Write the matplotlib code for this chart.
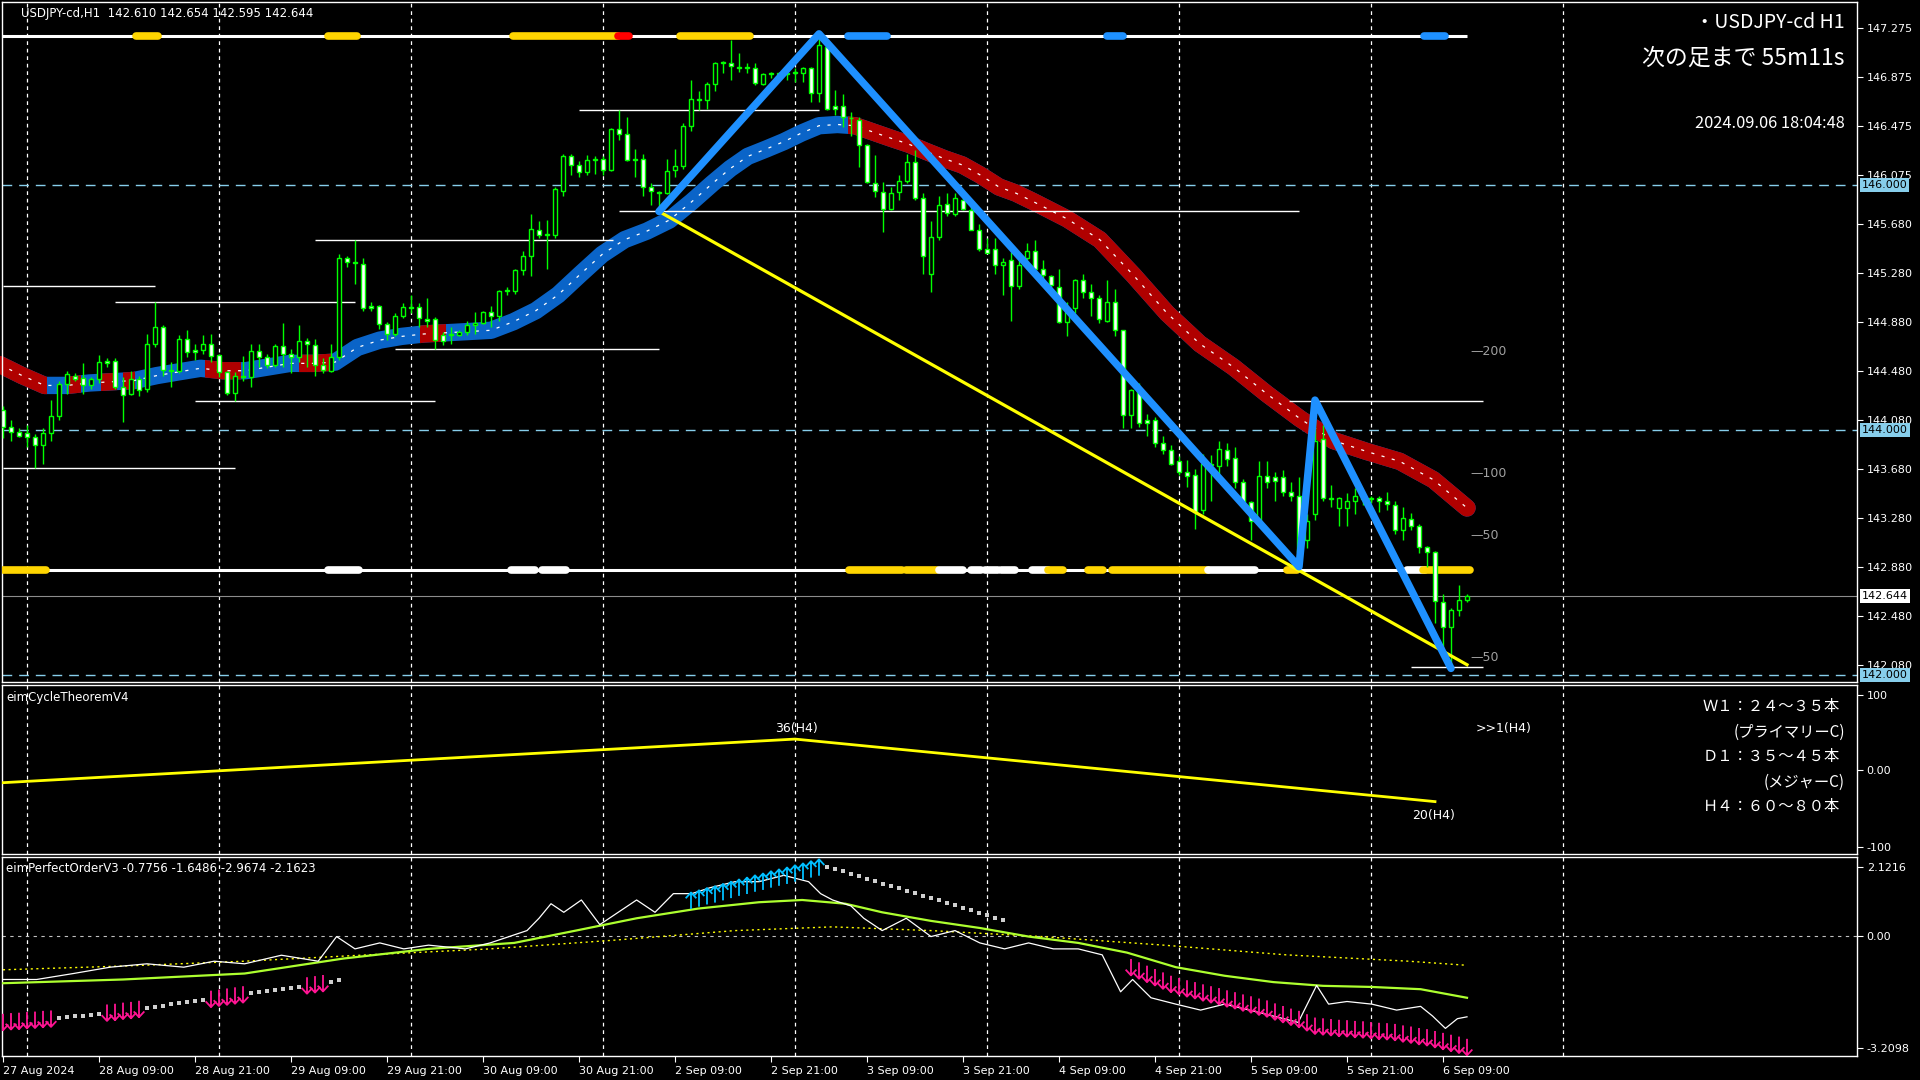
import matplotlib
matplotlib.use("Agg")
import matplotlib.pyplot as plt
import numpy as np
from matplotlib.path import Path
from matplotlib.patches import Rectangle
from matplotlib.transforms import blended_transform_factory

# ---------------- data ----------------
opens = [144.16,144.02,143.98,143.97,143.94,143.87,143.97,144.11,144.37,144.44,
144.42,144.36,144.41,144.56,144.56,144.35,144.29,144.41,144.33,144.70,
144.84,144.49,144.48,144.74,144.65,144.65,144.70,144.61,144.47,144.30,
144.44,144.43,144.64,144.59,144.53,144.68,144.62,144.59,144.72,144.69,
144.53,144.48,144.59,145.40,145.37,145.35,145.01,145.01,144.86,144.78,
144.93,145.00,145.00,144.90,144.90,144.77,144.77,144.77,144.80,144.85,
144.87,144.96,144.93,145.13,145.13,145.30,145.42,145.63,145.59,145.59,
145.95,146.23,146.16,146.10,146.20,146.21,146.12,146.45,146.41,146.21,
146.21,145.98,145.94,145.93,146.12,146.15,146.48,146.70,146.69,146.82,
146.99,146.99,146.96,146.96,146.95,146.82,146.90,146.91,146.90,146.92,
146.91,146.95,146.75,147.12,146.64,146.64,146.54,146.53,146.32,146.01,
145.94,145.80,145.94,146.03,146.18,145.89,145.27,145.57,145.84,145.76,
145.87,145.79,145.63,145.47,145.47,145.34,145.38,145.17,145.40,145.46,
145.31,145.25,145.16,144.88,144.99,145.22,145.12,145.07,144.89,145.04,
144.81,144.12,144.32,144.08,144.08,143.89,143.83,143.74,143.65,143.63,
143.34,143.72,143.70,143.83,143.77,143.57,143.41,143.25,143.62,143.61,
143.61,143.49,143.46,143.10,143.31,143.92,143.44,143.36,143.36,143.42,
143.44,143.43,143.44,143.42,143.38,143.18,143.27,143.21,143.04,143.00,
142.59,142.39,142.53,142.610]
highs = [144.19,144.08,144.01,144.04,143.96,144.01,144.24,144.40,144.48,144.46,
144.54,144.43,144.61,144.58,144.58,144.43,144.48,144.44,144.78,145.04,
144.85,144.55,144.77,144.81,144.70,144.77,144.78,144.62,144.48,144.47,
144.60,144.70,144.70,144.62,144.70,144.87,144.66,144.85,144.75,144.74,
144.58,144.70,145.43,145.42,145.55,145.40,145.04,145.02,144.88,144.95,
145.03,145.10,145.03,145.07,144.92,144.80,144.84,144.81,144.89,144.96,
144.97,145.01,145.14,145.16,145.31,145.46,145.76,145.70,145.71,145.98,
146.25,146.25,146.19,146.24,146.23,146.23,146.46,146.61,146.55,146.29,
146.25,146.01,145.95,146.21,146.29,146.50,146.85,146.76,146.84,147.00,
147.01,147.18,147.07,146.99,146.99,146.91,146.92,146.92,146.93,146.95,
146.96,146.96,147.22,147.14,146.77,146.74,146.59,146.55,146.33,146.24,
146.02,145.98,146.08,146.25,146.28,145.93,145.70,145.91,145.93,145.93,
145.90,145.86,145.68,145.56,145.56,145.40,145.45,145.44,145.52,145.55,
145.38,145.26,145.31,145.04,145.23,145.27,145.19,145.10,145.22,145.15,
144.81,144.33,144.38,144.13,144.10,143.95,143.87,143.78,143.75,143.68,
143.80,143.79,143.91,143.89,143.86,143.60,143.42,143.74,143.74,143.65,
143.67,143.57,143.61,143.31,144.24,144.04,143.55,143.45,143.48,143.52,
143.48,143.46,143.46,143.49,143.42,143.37,143.32,143.23,143.05,143.01,
142.66,142.54,142.73,142.654]
lows = [143.93,143.91,143.94,143.86,143.69,143.72,143.91,144.08,144.29,144.40,
144.29,144.33,144.38,144.51,144.33,144.06,144.28,144.27,144.31,144.67,
144.44,144.35,144.46,144.59,144.57,144.62,144.55,144.43,144.28,144.23,
144.40,144.35,144.51,144.50,144.51,144.51,144.46,144.55,144.51,144.44,
144.46,144.47,144.57,145.33,145.19,144.97,144.97,144.82,144.73,144.76,
144.91,144.95,144.84,144.84,144.66,144.69,144.70,144.76,144.77,144.78,
144.86,144.84,144.89,145.10,145.11,145.26,145.25,145.56,145.31,145.56,
145.91,146.08,146.06,146.08,146.09,146.08,146.11,146.36,146.19,146.06,
145.91,145.83,145.78,145.92,146.06,146.13,146.44,146.61,146.62,146.76,
146.91,146.85,146.92,146.91,146.81,146.81,146.87,146.85,146.85,146.84,
146.84,146.67,146.67,146.61,146.57,146.47,146.40,146.14,146.01,145.90,
145.61,145.79,145.87,146.01,145.87,145.27,145.12,145.55,145.74,145.74,
145.79,145.63,145.46,145.44,145.27,145.10,144.89,145.15,145.38,145.30,
145.23,145.11,144.87,144.76,144.95,145.07,144.93,144.87,144.88,144.76,
144.01,144.01,144.02,143.95,143.86,143.80,143.71,143.63,143.53,143.19,
143.31,143.42,143.64,143.70,143.52,143.36,143.10,143.23,143.52,143.42,
143.46,143.42,142.87,143.03,143.26,143.42,143.37,143.21,143.21,143.31,
143.38,143.40,143.33,143.34,143.15,143.10,143.18,142.99,142.88,142.42,
142.20,142.05,142.48,142.595]
closes = [144.02,143.98,143.95,143.94,143.87,143.97,144.11,144.37,144.45,144.41,
144.36,144.41,144.55,144.54,144.35,144.28,144.41,144.32,144.70,144.84,
144.49,144.48,144.74,144.63,144.63,144.70,144.60,144.47,144.30,144.44,
144.43,144.64,144.59,144.53,144.68,144.62,144.59,144.72,144.70,144.53,
144.49,144.59,145.40,145.37,145.36,144.99,144.99,144.86,144.78,144.93,
145.00,144.99,144.91,144.89,144.73,144.72,144.78,144.80,144.85,144.87,
144.96,144.93,145.13,145.14,145.30,145.42,145.64,145.59,145.59,145.96,
146.23,146.16,146.10,146.20,146.21,146.12,146.45,146.41,146.20,146.20,
145.98,145.95,145.93,146.11,146.15,146.48,146.70,146.69,146.82,146.99,
147.00,146.97,146.95,146.95,146.83,146.90,146.91,146.90,146.91,146.91,
146.95,146.75,147.14,146.62,146.62,146.55,146.54,146.32,146.02,145.95,
145.80,145.93,146.03,146.18,145.89,145.42,145.57,145.83,145.77,145.89,
145.80,145.63,145.47,145.44,145.34,145.37,145.17,145.34,145.46,145.31,
145.26,145.18,144.88,144.96,145.22,145.12,145.07,144.90,145.04,144.81,
144.12,144.32,144.05,144.05,143.89,143.83,143.72,143.65,143.62,143.33,
143.72,143.71,143.84,143.76,143.57,143.41,143.25,143.62,143.57,143.58,
143.49,143.46,143.00,143.25,143.91,143.44,143.43,143.44,143.42,143.46,
143.43,143.44,143.42,143.39,143.18,143.28,143.21,143.04,143.00,142.60,
142.39,142.53,142.61,142.644]

# moving-average band (bar, price)
ma_bars = [-0.4,2.4,5.2,8.0,10.8,13.6,16.4,19.2,21.9,24.7,27.5,30.3,33.1,35.9,38.7,41.5,
           44.3,47.1,49.8,52.6,55.4,58.2,61.0,63.8,66.6,69.4,72.2,74.9,77.7,80.5,83.3,86.1,
           88.7,90.9,93.1,95.4,97.6,99.8,102.0,104.3,106.5,108.7,110.9,113.2,115.4,117.7,
           119.9,122.1,124.5,126.6,128.8,133.0,137.1,141.3,145.5,149.6,153.8,158.0,162.1,
           166.3,170.5,174.6,178.8,183.0]
ma_vals = [144.53,144.44,144.36,144.36,144.38,144.39,144.40,144.44,144.47,144.50,144.48,
           144.48,144.51,144.54,144.54,144.55,144.67,144.73,144.76,144.78,144.79,144.80,
           144.81,144.88,144.97,145.10,145.27,145.43,145.55,145.62,145.71,145.86,146.01,
           146.13,146.23,146.29,146.35,146.42,146.48,146.49,146.48,146.43,146.38,146.33,
           146.27,146.21,146.16,146.08,145.98,145.93,145.86,145.72,145.55,145.26,144.95,
           144.70,144.51,144.29,144.09,143.91,143.82,143.74,143.59,143.36]
ma_red_ranges = [(-1, 5.5), (8.2, 9.8), (12.3, 14.3), (15.0, 16.5), (25.2, 29.8),
                 (37.0, 41.0), (52.1, 55.4), (105.6, 185)]

zz_bars = [82, 102, 162, 164, 181]
zz_vals = [145.78, 147.23, 142.88, 144.24, 142.05]
trend_bars = [82, 183]
trend_vals = [145.78, 142.08]

# horizontal levels (price, from bar, to bar)
hl_price = [145.175, 145.045, 144.66, 144.23, 143.69, 145.55, 145.78, 146.61, 144.235, 142.06]
hl_from = [0, 14, 49, 24, 0, 39, 77, 72, 160.8, 176]
hl_to = [19, 44, 82, 54, 29, 76.2, 162, 102, 185, 185]

top_bar_price = 147.216
top_segs = [(16.6, 19.4, 'gold'), (40.6, 44.3, 'gold'), (63.7, 76.9, 'gold'), (76.9, 78.3, 'red'),
            (84.6, 93.4, 'gold'), (105.6, 110.5, 'blue'), (138.0, 140.0, 'blue'), (177.6, 180.3, 'blue')]
low_bar_price = 142.857
low_segs = [(0, 5.4, 'gold'), (40.6, 44.5, 'white'), (63.5, 66.5, 'white'), (67.4, 70.4, 'white'),
            (105.7, 112.4, 'gold'), (112.9, 116.7, 'gold'), (117.0, 120.0, 'white'), (121.0, 122.2, 'white'),
            (122.8, 124.4, 'white'), (124.8, 126.5, 'white'), (128.6, 130.6, 'white'), (130.6, 132.5, 'gold'),
            (135.6, 137.5, 'gold'), (138.6, 150.6, 'gold'), (150.6, 156.5, 'white'), (160.5, 161.7, 'gold'),
            (175.5, 177.7, 'white'), (177.5, 183.4, 'gold')]

round_levels = [146.0, 144.0, 142.0]
bid_price = 142.644
price_ticks = [147.275, 146.875, 146.475, 146.075, 145.680, 145.280, 144.880, 144.480,
               144.080, 143.680, 143.280, 142.880, 142.480, 142.080]
level_text = ['—200', '—100', '—50', '—50']
level_text_price = [144.633, 143.645, 143.131, 142.143]

time_label_bars = [0, 12, 24, 36, 48, 60, 72, 84, 96, 108, 120, 132, 144, 156, 168, 180]
time_labels = ['27 Aug 2024', '28 Aug 09:00', '28 Aug 21:00', '29 Aug 09:00', '29 Aug 21:00',
               '30 Aug 09:00', '30 Aug 21:00', '2 Sep 09:00', '2 Sep 21:00', '3 Sep 09:00',
               '3 Sep 21:00', '4 Sep 09:00', '4 Sep 21:00', '5 Sep 09:00', '5 Sep 21:00', '6 Sep 09:00']
day_sep_bars = [3, 27, 51, 75, 99, 123, 147, 171, 195]

# cycle panel
cyc_bars = [0, 99, 179]
cyc_vals = [-15.6, 36.0, -38.0]

# perfect order panel
po_white_bars = [0,4.2,8.8,13.4,18.0,22.6,26.4,30.2,34.8,39.4,41.7,44.0,47.1,50.1,53.2,57.8,60.9,
                 65.5,67.0,68.5,70.1,72.3,74.6,76.9,79.2,81.5,83.8,86.1,88.4,91.5,94.5,97.6,100.7,
                 102.2,103.7,106.0,107.6,109.9,112.9,116.0,119.0,122.1,125.2,128.2,131.3,134.4,
                 137.4,139.7,141.2,143.5,146.6,149.7,152.7,155.8,158.8,161.9,164.2,165.7,168.0,
                 171.1,174.2,177.2,178.7,180.3,181.8,183.0]
po_white_vals = [-1.16,-1.16,-1.00,-0.83,-0.74,-0.83,-0.67,-0.74,-0.51,-0.67,-0.01,-0.34,-0.18,
                 -0.34,-0.24,-0.34,-0.18,0.15,0.48,0.87,0.64,0.97,0.31,0.64,0.97,0.64,1.14,1.14,
                 1.30,1.46,1.46,1.63,1.46,1.14,0.97,0.81,0.48,0.15,0.48,-0.01,0.15,-0.18,-0.34,
                 -0.18,-0.34,-0.34,-0.50,-1.49,-1.16,-1.65,-1.82,-1.98,-1.82,-1.98,-2.14,-2.31,
                 -1.32,-1.82,-1.75,-1.82,-1.98,-1.88,-2.14,-2.47,-2.21,-2.16]
po_green_bars = [0,15.0,30.2,42.5,53.2,63.9,71.6,79.2,86.9,94.5,99.9,105.3,109.9,116.0,122.1,
                 128.2,134.4,140.5,146.6,152.7,158.8,165.0,171.1,177.2,183.0]
po_green_vals = [-1.26,-1.16,-1.00,-0.60,-0.34,-0.18,0.15,0.48,0.74,0.91,0.97,0.87,0.64,0.41,
                 0.22,-0.01,-0.18,-0.44,-0.83,-1.06,-1.23,-1.33,-1.36,-1.42,-1.65]
po_slow_bars = [0,15,30.2,45.6,60.9,76.2,91.5,103.7,116,129.8,145.1,160.4,175.7,183]
po_slow_vals = [-0.90,-0.80,-0.67,-0.50,-0.34,-0.11,0.15,0.25,0.15,-0.01,-0.24,-0.50,-0.67,-0.78]

po_run1_start = 0
po_run1_vals = [-2.30,-2.28,-2.27,-2.25,-2.24,-2.22,-2.21,-2.19,-2.17,-2.15,-2.13,-2.10,-2.08,
                -2.05,-2.03,-2.00,-1.98,-1.95,-1.92,-1.89,-1.86,-1.83,-1.80,-1.77,-1.74,-1.71,
                -1.68,-1.65,-1.62,-1.59,-1.56,-1.53,-1.50,-1.47,-1.44,-1.41,-1.38,-1.35,-1.32,
                -1.29,-1.26,-1.22,-1.18]
po_run1_kind = "ppppppp" + "ssssss" + "ppppp" + "ssssssss" + "ppppp" + "sssssss" + "ppp" + "ss"
po_run2_start = 86
po_run2_vals = [0.95,1.01,1.07,1.12,1.18,1.24,1.30,1.35,1.41,1.46,1.52,1.57,1.62,1.68,1.73,1.79,1.84,
                1.86,1.80,1.74,1.67,1.61,1.54,1.48,1.41,1.35,1.28,1.22,1.15,1.09,1.02,0.96,0.89,
                0.83,0.76,0.70,0.63,0.57,0.50,0.44]
po_run2_kind = "c" * 17 + "s" * 23
po_run3_start = 141
po_run3_vals = [-0.83,-0.92,-1.01,-1.10,-1.19,-1.28,-1.34,-1.40,-1.45,-1.51,-1.56,-1.61,-1.67,
                -1.72,-1.78,-1.83,-1.89,-1.94,-2.02,-2.09,-2.16,-2.22,-2.31,-2.40,-2.42,-2.44,
                -2.46,-2.47,-2.49,-2.50,-2.52,-2.54,-2.55,-2.57,-2.61,-2.64,-2.68,-2.71,-2.76,
                -2.81,-2.86,-2.91,-2.97]
po_run3_kind = "p" * 43

# ---------------- figure ----------------
W, H = 1920, 1080
BG = 'black'
plt.rcParams['font.family'] = ['DejaVu Sans']
fig = plt.figure(figsize=(19.2, 10.8), dpi=100, facecolor=BG)

def rect(x0, y0, x1, y1):
    return [x0 / W, 1 - y1 / H, (x1 - x0) / W, (y1 - y0) / H]

ax1 = fig.add_axes(rect(2, 2, 1857, 682))
ax2 = fig.add_axes(rect(2, 685, 1857, 854), sharex=ax1)
ax3 = fig.add_axes(rect(2, 857, 1857, 1056), sharex=ax1)

for ax in (ax1, ax2, ax3):
    ax.set_facecolor(BG)
    for s in ax.spines.values():
        s.set_color('white')
        s.set_linewidth(1.0)
    ax.yaxis.tick_right()
    ax.tick_params(axis='y', colors='white', labelsize=8, length=4, width=0.8, pad=3)
    ax.tick_params(axis='x', colors='white', labelsize=8, length=4, width=0.8)
    for b in day_sep_bars:
        ax.axvline(b, color='white', lw=0.9, ls=(0, (3, 3)), zorder=1)

ax1.set_xlim(-0.125, 231.75)
ax1.set_ylim(141.939, 147.49)
ax2.set_ylim(-100, 100)
ax3.set_ylim(-3.2098, 2.1216)
ax1.tick_params(axis='x', bottom=False, labelbottom=False)
ax2.tick_params(axis='x', bottom=False, labelbottom=False)

# price ticks
ax1.set_yticks(price_ticks)
ax1.set_yticklabels([f"{p:.3f}" for p in price_ticks])

# ---- main panel ----
x = np.arange(len(closes))
o = np.array(opens); c = np.array(closes); h = np.array(highs); l = np.array(lows)

for p in round_levels:
    ax1.axhline(p, color='#87CEEB', lw=1.0, ls=(0, (7, 5)), zorder=1.5)
ax1.axhline(bid_price, color='#8C8C8C', lw=0.8, zorder=1.5)

# MA band
ma_blue = '#0A64C8'
ma_red = '#B00000'
ma_lw = 12.5
ax1.plot(ma_bars, ma_vals, color=ma_blue, lw=ma_lw, solid_capstyle='round', zorder=2)
for (a, b) in ma_red_ranges:
    ln, = ax1.plot(ma_bars, ma_vals, color=ma_red, lw=ma_lw, solid_capstyle='round', zorder=2.1)
    ln.set_clip_path(Rectangle((a, 140), b - a, 10, transform=ax1.transData))
ax1.plot(ma_bars, ma_vals, color='white', lw=0.9, dashes=(2.5, 6), zorder=2.2)

# thin white horizontal levels
ax1.hlines(hl_price, hl_from, hl_to, color='white', lw=1.0, zorder=2.5)

# top & bottom state bars
colmap = {'gold': '#FFD500', 'red': '#FF0000', 'blue': '#1E90FF', 'white': '#FFFFFF'}
ax1.hlines(top_bar_price, -0.2, 183, color='white', lw=2.2, zorder=2.6)
ax1.hlines(low_bar_price, -0.2, 183.4, color='white', lw=2.2, zorder=2.6)
for (a, b, col) in top_segs:
    ax1.hlines(top_bar_price, a, b, color=colmap[col], lw=5.5, capstyle='round', zorder=2.7)
for (a, b, col) in low_segs:
    ax1.hlines(low_bar_price, a, b, color=colmap[col], lw=5.5, capstyle='round', zorder=2.7)

# candles
up = c >= o
ax1.vlines(x, l, h, color='#00FF00', lw=1.0, zorder=4)
body_bottom = np.minimum(o, c)
body_h = np.maximum(np.abs(c - o), 0.004)
ax1.bar(x, body_h, bottom=body_bottom, width=0.62,
        color=np.where(up, 'black', 'white'), edgecolor='#00FF00', linewidth=1.0, zorder=5)

# trend line and zigzag
ax1.plot(trend_bars, trend_vals, color='#FFFF00', lw=2.3, zorder=6)
ax1.plot(zz_bars, zz_vals, color='#1E90FF', lw=5.4, solid_capstyle='round', zorder=7)

for t, p in zip(level_text, level_text_price):
    ax1.text(183.4, p, t, color='#A0A0A0', fontsize=9, va='center', ha='left', zorder=8)

# right axis boxes
bt = blended_transform_factory(ax1.transAxes, ax1.transData)
for p in round_levels:
    ax1.text(1.0025, p, f"{p:.3f}", transform=bt, color='black', fontsize=8, va='center', ha='left',
             clip_on=False, zorder=10,
             bbox=dict(boxstyle='square,pad=0.18', fc='#87CEEB', ec='none'))
ax1.text(1.0025, bid_price, f"{bid_price:.3f}", transform=bt, color='black', fontsize=8, va='center',
         ha='left', clip_on=False, zorder=10,
         bbox=dict(boxstyle='square,pad=0.18', fc='white', ec='none'))

# texts
def fx(px): return px / W
def fy(py): return 1 - py / H
cjk = ['Noto Sans CJK JP', 'DejaVu Sans']
fig.text(fx(21), fy(13), 'USDJPY-cd,H1  142.610 142.654 142.595 142.644', color='white',
         fontsize=8.5, va='center', ha='left')
fig.text(fx(1845), fy(22), '・USDJPY-cd H1', color='white', fontsize=14, va='center', ha='right',
         family=cjk)
fig.text(fx(1845), fy(58), '次の足まで 55m11s', color='white', fontsize=16.5, va='center', ha='right',
         family=cjk)
fig.text(fx(1845), fy(124), '2024.09.06 18:04:48', color='white', fontsize=11.8, va='center', ha='right',
         family=cjk)

# ---- cycle panel ----
ax2.plot(cyc_bars, cyc_vals, color='#FFFF00', lw=2.0, zorder=3)
ax2.text(99.2, 49, '36(H4)', color='white', fontsize=9, ha='center', va='center')
ax2.text(176.2, -55, '20(H4)', color='white', fontsize=9, ha='left', va='center')
ax2.text(184.1, 48, '>>1(H4)', color='white', fontsize=9, ha='left', va='center')
ax2.set_yticks([88, 0, -91.7])
ax2.set_yticklabels(['100', '0.00', '-100'])
fig.text(fx(6), fy(697), 'eimCycleTheoremV4', color='white', fontsize=8.5, va='center', ha='left')
cyc_lines = ['Ｗ１：２４～３５本', '(プライマリーC)', 'Ｄ１：３５～４５本', '(メジャーC)', 'Ｈ４：６０～８０本']
cyc_y = [707, 732, 756, 782, 807]
cyc_x = [1840, 1845, 1840, 1845, 1840]
for t, yy, xx in zip(cyc_lines, cyc_y, cyc_x):
    fig.text(fx(xx), fy(yy), t, color='white', fontsize=11, va='center', ha='right', family=cjk)

# ---- perfect order panel ----
ax3.axhline(0, color='#C0C0C0', lw=0.8, ls=(0, (3, 4)), zorder=1)
ax3.plot(po_slow_bars, po_slow_vals, color='#FFFF00', lw=1.0, ls=(0, (1.5, 2.5)), zorder=2)
ax3.plot(po_green_bars, po_green_vals, color='#ADFF2F', lw=1.6, zorder=3)
ax3.plot(po_white_bars, po_white_vals, color='white', lw=0.9, zorder=3)

down_arrow = Path([(0, 1), (0, -1), (-0.65, -0.3), (0, -1), (0.65, -0.3)],
                  [Path.MOVETO, Path.LINETO, Path.MOVETO, Path.LINETO, Path.LINETO])
up_arrow = Path([(0, -1), (0, 1), (-0.65, 0.3), (0, 1), (0.65, 0.3)],
                [Path.MOVETO, Path.LINETO, Path.MOVETO, Path.LINETO, Path.LINETO])

def draw_run(start, vals, kinds):
    for k, col, mk, sz in (('p', '#FF1493', down_arrow, 140), ('c', '#00BFFF', up_arrow, 140)):
        xs = [start + j for j in range(len(vals)) if kinds[j] == k]
        ys = [vals[j] for j in range(len(vals)) if kinds[j] == k]
        if xs:
            ax3.scatter(xs, ys, marker=mk, s=sz, facecolors='none', edgecolors=col,
                        linewidths=1.3, zorder=5)
    xs = [start + j for j in range(len(vals)) if kinds[j] == 's']
    ys = [vals[j] for j in range(len(vals)) if kinds[j] == 's']
    if xs:
        ax3.scatter(xs, ys, marker='s', s=10, color='#CFCFCF', zorder=5, linewidths=0)

draw_run(po_run1_start, po_run1_vals, po_run1_kind)
draw_run(po_run2_start, po_run2_vals, po_run2_kind)
draw_run(po_run3_start, po_run3_vals, po_run3_kind)

ax3.set_yticks([1.85, 0, -2.99])
ax3.set_yticklabels(['2.1216', '0.00', '-3.2098'])
fig.text(fx(6), fy(869), 'eimPerfectOrderV3 -0.7756 -1.6486 -2.9674 -2.1623', color='white',
         fontsize=8.5, va='center', ha='left')

ax3.set_xticks(time_label_bars)
ax3.set_xticklabels(time_labels, ha='left', fontsize=8)
ax3.tick_params(axis='x', pad=3)

fig.savefig('out.png', dpi=100, facecolor=BG)
